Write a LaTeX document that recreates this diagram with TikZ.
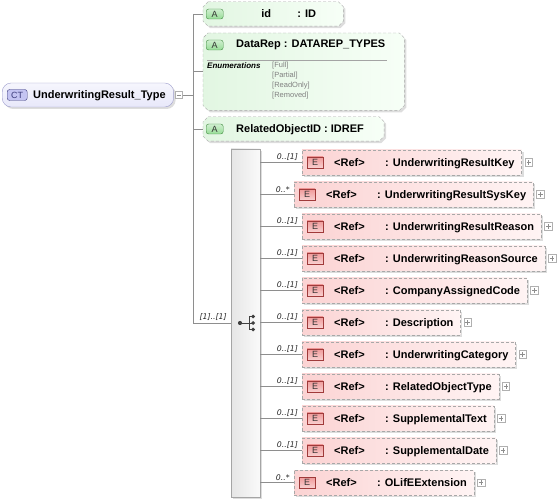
\documentclass[tikz,border=0pt]{standalone}
\usepackage{fontspec}
\setmainfont{Liberation Sans}
\newfontfamily\cardfont{DejaVu Sans}
\usetikzlibrary{calc,positioning,shadows,backgrounds}
\definecolor{linegray}{HTML}{8E8E8E}
\definecolor{dashgray}{HTML}{A8A8A8}
\definecolor{elemleft}{HTML}{FBD3D3}
\definecolor{elemright}{HTML}{FFF4F4}
\definecolor{eiconfill}{HTML}{F09A9A}
\definecolor{eicondraw}{HTML}{A03A3A}
\definecolor{attrleft}{HTML}{E2F6E2}
\definecolor{attrright}{HTML}{F7FFF7}
\definecolor{aiconfill}{HTML}{96DC96}
\definecolor{aicondraw}{HTML}{3F8A3F}
\definecolor{ctfill}{HTML}{E8E8FA}
\definecolor{ctdraw}{HTML}{9C9CCC}
\definecolor{cticonfill}{HTML}{C4C4F2}
\definecolor{cticondraw}{HTML}{3C3C7C}
\tikzset{conn/.style={linegray,line width=0.8pt},
shadowed/.style={drop shadow={shadow xshift=2pt,shadow yshift=-2pt,opacity=0.22,fill=black!60}}}
\newcommand{\elemtext}[1]{\hspace*{32pt}\makebox[51pt][l]{<Ref>}: #1\hspace*{7pt}}
\newcommand{\octpath}[1]{([xshift=5pt]#1.north west) -- ([xshift=-5pt]#1.north east) -- ([yshift=-5pt]#1.north east) -- ([yshift=5pt]#1.south east) -- ([xshift=-5pt]#1.south east) -- ([xshift=5pt]#1.south west) -- ([yshift=5pt]#1.south west) -- ([yshift=-5pt]#1.north west) -- cycle}

\begin{document}
\begin{tikzpicture}[x=1pt,y=-1pt,font=\fontsize{11}{13}\selectfont\bfseries]

\tikzset{elembox/.style={shape=rectangle,draw=dashgray,dash pattern=on 3pt off 2pt,left color=elemleft,right color=elemright,minimum height=25pt,inner sep=0pt,text height=8pt,text depth=0pt,anchor=west,shadowed},
attrbox/.style={shape=rectangle,minimum height=24pt,inner sep=0pt,text height=8pt,text depth=0pt,anchor=west},
attrshape/.style={draw=dashgray,dash pattern=on 3pt off 2pt,left color=attrleft,right color=attrright,shadowed},
eicon/.style={draw=eicondraw,top color=eiconfill,bottom color=eiconfill!45,minimum width=16pt,minimum height=11pt,inner sep=0pt,font=\fontsize{9}{9}\selectfont,text=black!80},
aicon/.style={draw=aicondraw,top color=aiconfill!45,bottom color=aiconfill,rounded corners=2.5pt,minimum width=17pt,minimum height=10pt,inner sep=0pt,font=\fontsize{9}{9}\selectfont,text=black!80},
cticon/.style={draw=cticondraw,fill=cticonfill,rounded corners=2.5pt,minimum width=20pt,minimum height=11pt,inner sep=0pt,font=\fontsize{9}{9}\selectfont,text=cticondraw},
ctbox/.style={draw=ctdraw,top color=ctfill!40,bottom color=ctfill,rounded corners=9pt,minimum height=24pt,inner sep=0pt,text height=8pt,text depth=0pt,anchor=west,shadowed},
seqbox/.style={draw=linegray!80,left color=gray!20,right color=gray!4,minimum width=29pt,minimum height=348pt,inner sep=0pt,shadowed},
plusbox/.style={draw=linegray!70,fill=white,minimum size=7.5pt,inner sep=0pt,line width=0.5pt,path picture={\draw[linegray,line width=0.6pt] ([xshift=1.5pt]path picture bounding box.west) -- ([xshift=-1.5pt]path picture bounding box.east) ([yshift=-1.5pt]path picture bounding box.north) -- ([yshift=1.5pt]path picture bounding box.south);}},
minusbox/.style={draw=linegray!70,fill=white,minimum size=7.5pt,inner sep=0pt,line width=0.5pt,path picture={\draw[linegray,line width=0.6pt] ([xshift=1.5pt]path picture bounding box.west) -- ([xshift=-1.5pt]path picture bounding box.east);}},
cardlabel/.style={inner sep=0pt,font=\cardfont\mdseries\itshape\fontsize{7.8}{9}\selectfont,text=black!85},
enumlabel/.style={inner sep=0pt,font=\bfseries\itshape\fontsize{8}{9}\selectfont},
enumval/.style={inner sep=0pt,font=\mdseries\fontsize{7.5}{9}\selectfont,text=gray}}

\useasboundingbox (0,0) rectangle (557,502);

% Complex type
\node[ctbox] (ct) at (2,95) {\hspace*{31pt}UnderwritingResult\_Type\hspace*{8pt}};
\node[cticon,right=5pt of ct.west] (cti) {CT};
\node[minusbox,right=1pt of ct] (ctm) {};

% Trunk
\coordinate (jt) at (193,14);
\coordinate (jb) at (193,323);
\draw[conn] (jt) -- (jb);
\draw[conn] (ctm.east) -- (ctm.east -| jt);

% Attributes
\node[attrbox,minimum width=140pt] (a1) at (203,14) {\hspace*{31pt}\makebox[36pt][l]{id}: ID};
\node[attrbox,anchor=north west,minimum width=201pt,minimum height=77pt] (a2) at (203,33) {};
\node[anchor=west,inner sep=0pt] (at2) at ($(a2.north west)+(33,12)$) {DataRep : DATAREP\_TYPES};
\node[attrbox] (a3) at (203,129) {\hspace*{33pt}RelatedObjectID : IDREF\hspace*{20pt}};
\begin{scope}[on background layer]
\foreach \a in {a1,a2,a3} \path[attrshape] \octpath{\a};
\end{scope}
\node[aicon,right=3pt of a1.west] (ai1) {A};
\node[aicon,anchor=west] (ai2) at ($(a2.north west)+(3,12)$) {A};
\node[aicon,right=3pt of a3.west] (ai3) {A};
\draw[linegray!80,line width=0.8pt] ($(a2.north west)+(4,27)$) -- ($(a2.north west)+(184,27)$);
\node[enumlabel,anchor=base west] (en) at ($(a2.north west)+(4,36)$) {Enumerations};
\foreach \v [count=\k] in {Full,Partial,ReadOnly,Removed} \node[enumval,anchor=base west] (ev\k) at ($(a2.north west)+(69,25+10*\k)$) {[\v]};
\foreach \a in {a1,a2,a3} \draw[conn] (\a.west -| jt) -- (\a.west);

% Sequence
\node[seqbox] (seq) at (245.5,323) {};
\draw[conn] (jb) -- (seq.west);
\node[cardlabel,above left=2pt and 4pt of seq.west] (seqc) {[1]..[1]};
\fill[black!75] ($(seq)+(-5.5,0)$) circle (2.1pt);
\draw[black!75,line width=0.9pt] ($(seq)+(-5.5,0)$) -- ($(seq)+(3.8,0)$);
\draw[black!75,line width=0.9pt] ($(seq)+(3.8,-6.5)$) -- ($(seq)+(3.8,6.5)$);
\foreach \dy in {-6.5,0,6.5} {\draw[black!75,line width=0.9pt] ($(seq)+(3.8,\dy)$) -- ($(seq)+(7,\dy)$); \fill[black!75] ($(seq)+(7.6,\dy)$) circle (1.9pt);}

% Elements
\foreach \i/\card/\xl/\nm in {1/0..[1]/302/UnderwritingResultKey,2/0..*/294/UnderwritingResultSysKey,3/0..[1]/302/UnderwritingResultReason,4/0..[1]/302/UnderwritingReasonSource,5/0..[1]/302/CompanyAssignedCode,6/0..[1]/302/Description,7/0..[1]/302/UnderwritingCategory,8/0..[1]/302/RelatedObjectType,9/0..[1]/302/SupplementalText,10/0..[1]/302/SupplementalDate,11/0..*/294/OLifEExtension} {
  \node[elembox] (e\i) at (\xl,130.5+32*\i) {\elemtext{\nm}};
  \node[eicon,right=5pt of e\i.west] (ei\i) {E};
  \node[plusbox,right=3pt of e\i] (ep\i) {};
  \node[cardlabel,above left=2pt and 4pt of e\i.west] (ec\i) {\card};
  \draw[conn] (seq.east |- e\i.west) -- (e\i.west);
}

\end{tikzpicture}
\end{document}
